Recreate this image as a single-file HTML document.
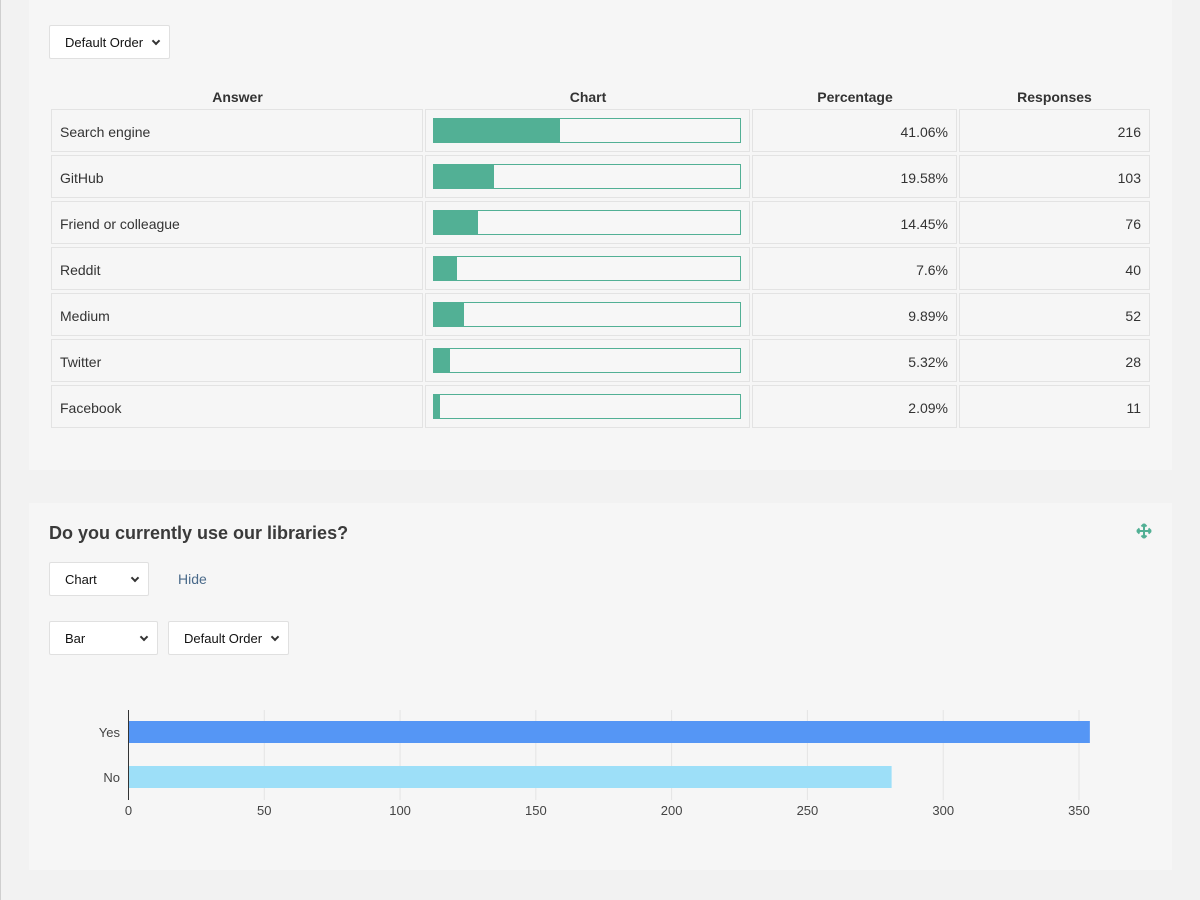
<!DOCTYPE html>
<html><head><meta charset="utf-8"><style>
*{box-sizing:border-box}
body{margin:0;width:1200px;height:900px;background:#f2f2f2;font-family:"Liberation Sans",sans-serif;position:relative;overflow:hidden}
.panel{position:absolute;left:29px;width:1143px;background:#f6f6f6}
.sel{position:absolute;height:34px;background:#fff;border:1px solid #e0e0e0;border-radius:2px;font-size:13px;color:#111;line-height:33px;padding-left:15px}
.sel:after{content:"";position:absolute;right:10px;top:12px;width:4px;height:4px;border-right:2px solid #333;border-bottom:2px solid #333;transform:rotate(45deg)}
.th{position:absolute;top:89px;font-size:14px;font-weight:bold;color:#333;text-align:center}
.cell{position:absolute;height:43px;border:1px solid #e3e3e3;font-size:14px;color:#333;line-height:45px;padding:0 8px}
.bar{position:absolute;height:25px;border:1px solid #52b095;background:#f7f7f7}
.fill{position:absolute;left:0;top:0;bottom:0;background:#52b095}
</style></head><body>
<div style="position:absolute;left:0;top:0;width:1px;height:900px;background:#cfcfcf"></div>
<div class="panel" style="top:0;height:470px">
<div class="sel" style="left:20px;top:25px;width:121px">Default Order</div>
<div class="th" style="left:23px;width:371px">Answer</div>
<div class="th" style="left:397px;width:324px">Chart</div>
<div class="th" style="left:724px;width:204px">Percentage</div>
<div class="th" style="left:931px;width:189px">Responses</div>
<div id="rows"></div>
</div>
<div class="panel" style="top:503px;height:367px">
<div style="position:absolute;left:20px;top:20px;font-size:18px;font-weight:bold;color:#3a3a3a">Do you currently use our libraries?</div>
<svg style="position:absolute;left:1107px;top:20px" width="16" height="16" viewBox="0 0 16 16"><path d="M8 1v14M1 8h14M8 1l-2.5 2.5M8 1l2.5 2.5M8 15l-2.5-2.5M8 15l2.5-2.5M1 8l2.5-2.5M1 8l2.5 2.5M15 8l-2.5-2.5M15 8l-2.5 2.5" stroke="#52b095" stroke-width="2" fill="none"/></svg>
<div class="sel" style="left:20px;top:59px;width:100px">Chart</div>
<div style="position:absolute;left:149px;top:68px;font-size:14px;color:#4a6a8a">Hide</div>
<div class="sel" style="left:20px;top:118px;width:109px">Bar</div>
<div class="sel" style="left:139px;top:118px;width:121px">Default Order</div>
</div>
<svg id="chart" style="position:absolute;left:0;top:0" width="1200" height="900"></svg>
<script>
const answers=["Search engine","GitHub","Friend or colleague","Reddit","Medium","Twitter","Facebook"];
const pcts=[41.06,19.58,14.45,7.6,9.89,5.32,2.09];
const responses=[216,103,76,40,52,28,11];
const rows=document.getElementById('rows');
answers.forEach((a,i)=>{
 const y=109+i*46;
 const mk=(cls,left,w,txt,name,align)=>{const d=document.createElement('div');d.className=cls;d.style.left=left+'px';d.style.top=y+'px';d.style.width=w+'px';if(align)d.style.textAlign=align;if(txt!==null)d.textContent=txt;
 
 
 rows.appendChild(d);return d;};
 mk('cell',22,372,a,'answer-cell');
 const c=mk('cell',396,325,null,'chart-cell');
 const b=document.createElement('div');b.className='bar';b.style.left='7px';b.style.top='8px';b.style.width='308px';
 
 
 const f=document.createElement('div');f.className='fill';f.style.width=(307*pcts[i]/100)+'px';
 
 
 b.appendChild(f);c.appendChild(b);
 mk('cell',723,205,pcts[i]+'%','percentage-cell','right');
 mk('cell',930,191,String(responses[i]),'responses-cell','right');
});
const cats=["Yes","No"];
const vals=[354,281];
const ticks=[0,50,100,150,200,250,300,350];
const colors=["#5596f5","#9ddff8"];
const svg=document.getElementById('chart');const NS="http://www.w3.org/2000/svg";
const x0=128.5,k=(1079-128.5)/350,top0=710,bot=800;
const X=v=>x0+v*k;
function el(t,a,name){const e=document.createElementNS(NS,t);for(const n in a)e.setAttribute(n,a[n]);
 
 
 svg.appendChild(e);return e;}
ticks.forEach(t=>{if(t>0)el('line',{x1:X(t),x2:X(t),y1:top0,y2:bot,stroke:'#e4e4e4'},'grid-line');
 const tx=el('text',{x:X(t),y:815,'text-anchor':'middle','font-size':13,fill:'#444','font-family':'Liberation Sans, sans-serif'},'x-tick-label');tx.textContent=t;});
cats.forEach((c,i)=>{const yc=732+i*45;
 el('rect',{x:x0,y:yc-11,width:X(vals[i])-x0,height:22,fill:colors[i]},'bar-'+c.toLowerCase());
 const tx=el('text',{x:120,y:yc+5,'text-anchor':'end','font-size':13,fill:'#444','font-family':'Liberation Sans, sans-serif'},'y-tick-label');tx.textContent=c;});
el('line',{x1:x0,x2:x0,y1:top0,y2:bot,stroke:'#333'},'y-axis');
</script>
</body></html>
